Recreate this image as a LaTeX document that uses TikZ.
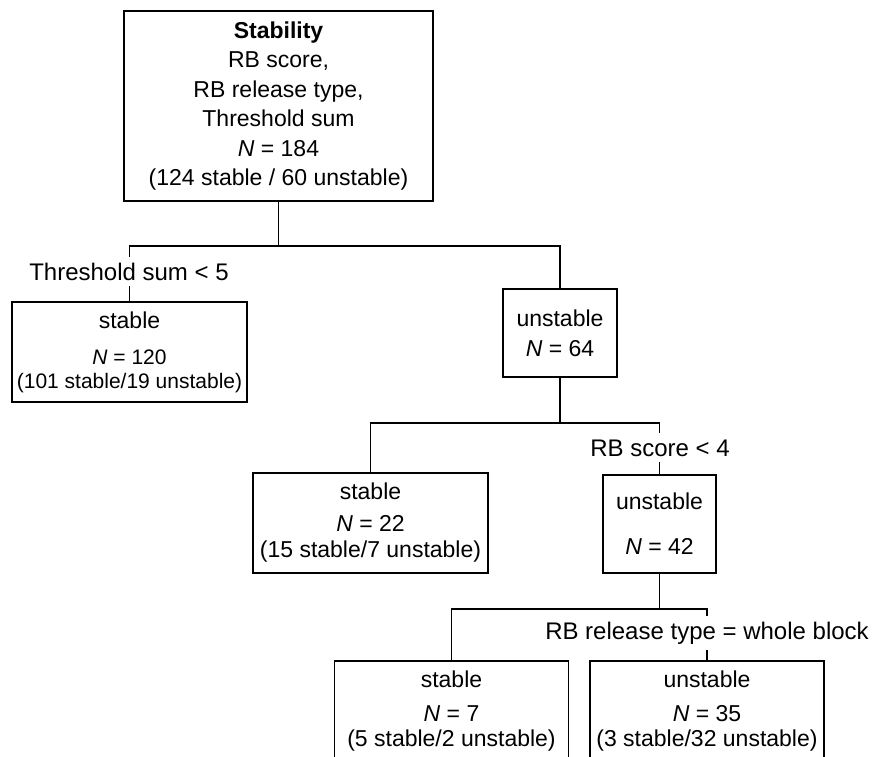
\documentclass[tikz,border=0pt]{standalone}
\usepackage{fontspec}
\setmainfont{Liberation Sans}

\begin{document}
\begin{tikzpicture}[x=1pt,y=-1pt,
	box/.style={draw,line width=1.8pt,align=center,inner sep=2pt,font=\fontsize{23}{25}\selectfont},
	branch/.style={line width=1.6pt},
	rule/.style={fill=white,inner xsep=2pt,inner ysep=6pt,anchor=base,font=\fontsize{24}{26}\selectfont}]
	\useasboundingbox (0,0) rectangle (876,757);
	
	\node [box,minimum width=309pt,minimum height=190pt,font=\fontsize{23}{29.5}\selectfont] (root) at (278.5,106)
		{\textbf{Stability}\\RB score,\\RB release type,\\Threshold sum\\\textit{N} = 184\\(124 stable / 60 unstable)};
	
	\node [box,minimum width=235pt,minimum height=100pt,font=\fontsize{23}{24}\selectfont] (stab1) at (129.5,352)
		{stable\\[12pt]{\fontsize{21}{24}\selectfont\textit{N} = 120}\\[0pt]{\fontsize{21}{24}\selectfont(101 stable/19 unstable)}};
	\node [box,minimum width=114pt,minimum height=88pt] (unst1) at (560,333)
		{unstable\\[5pt]\textit{N} = 64};
	
	\node [box,minimum width=235pt,minimum height=100pt,font=\fontsize{23}{26}\selectfont] (stab2) at (370.5,523)
		{stable\\[6pt]\textit{N} = 22\\(15 stable/7 unstable)};
	\node [box,minimum width=113pt,minimum height=98pt] (unst2) at (659.5,524)
		{unstable\\[20pt]\textit{N} = 42};
	
	\node [box,minimum width=234pt,minimum height=101pt] (stab3) at (451.5,711.5)
		{stable\\[9pt]\textit{N} = 7\\(5 stable/2 unstable)};
	\node [box,minimum width=234pt,minimum height=101pt] (unst3) at (707,711.5)
		{unstable\\[9pt]\textit{N} = 35\\(3 stable/32 unstable)};
	
	\path (root.south) ++(0,44) coordinate (fork1);
	\path (unst1.south) ++(0,45) coordinate (fork2);
	\path (unst2.south) ++(0,35) coordinate (fork3);
	
	\draw [branch] (root.south) -- (fork1);
	\draw [branch] (stab1.north) |- (fork1) -| (unst1.north);
	\draw [branch] (unst1.south) -- (fork2);
	\draw [branch] (stab2.north) |- (fork2) -| (unst2.north);
	\draw [branch] (unst2.south) -- (fork3);
	\draw [branch] (stab3.north) |- (fork3) -| (unst3.north);
	
	\node [rule] (ruleA) at (129,280) {Threshold sum < 5};
	\node [rule] (ruleB) at (660,456) {RB score < 4};
	\node [rule] (ruleC) at (707,639) {RB release type = whole block};
	
\end{tikzpicture}
\end{document}
